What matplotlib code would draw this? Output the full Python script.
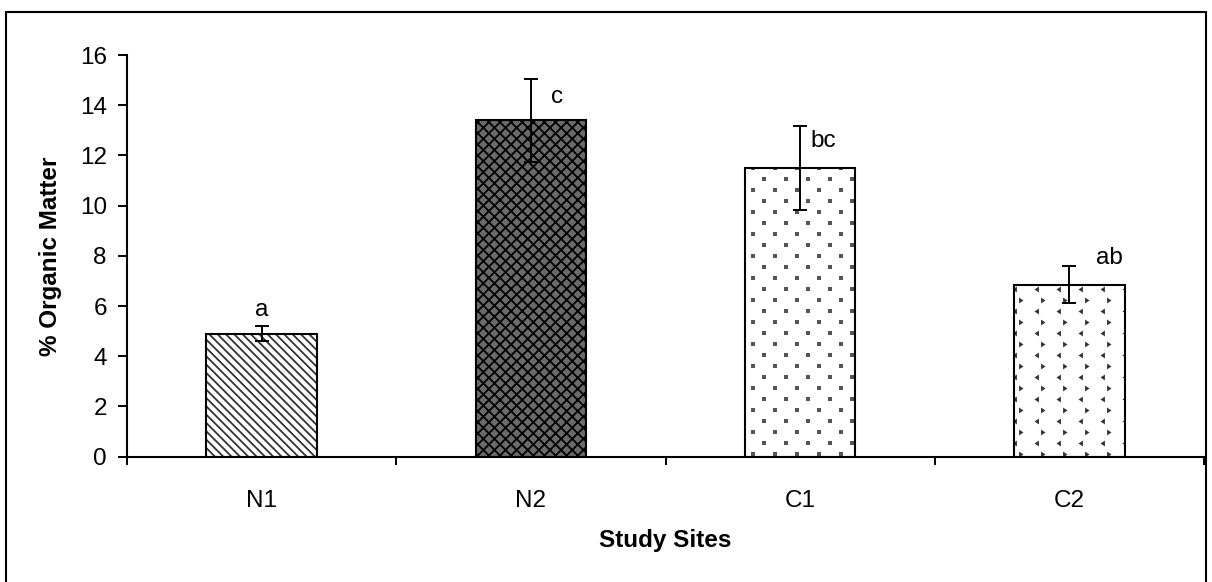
import numpy as np
import matplotlib
matplotlib.use('Agg')
import matplotlib.pyplot as plt
from matplotlib.patches import Rectangle

'''
% organic matter per study site, bar chart with error bars and letter groups
'''

sites = ['N1', 'N2', 'C1', 'C2']
organic_matter = [4.9, 13.4, 11.5, 6.85]
std_err = [0.3, 1.65, 1.67, 0.74]
groups = ['a', 'c', 'bc', 'ab']

# label offsets (points) from the top of each error bar
label_offsets = [(0, 11.5), (19, -13), (17, -11), (29, 6)]

plt.rcParams['font.family'] = ['Liberation Sans', 'DejaVu Sans']
plt.rcParams['hatch.linewidth'] = 1.3

fig = plt.figure(figsize=(12.12, 5.82), dpi=100)
ax = fig.add_axes([127 / 1212, 1 - 456.7 / 582, (1204 - 127) / 1212, (456.7 - 55) / 582])

x = np.arange(len(sites))
width = 0.41

# fill patterns first (hatch colour comes from edgecolor), outlines after
fills = [
    dict(facecolor='white', edgecolor='#333333', hatch='\\\\\\\\'),
    dict(facecolor='#6a6a6a', edgecolor='black', hatch='xxx'),
    dict(facecolor='white', edgecolor='white', hatch=None),
    dict(facecolor='white', edgecolor='white', hatch=None),
]
bars = []
for i in range(len(sites)):
    b = ax.bar(x[i], organic_matter[i], width, linewidth=0, zorder=2, **fills[i])
    bars.append(b[0])

px_x = 269.25  # px per category
px_y = 25.1    # px per unit


def marker_fill(bar, top, markers, size, color):
    # staggered grid of small marks, clipped to the bar
    xs = np.arange(bar.get_x() - 0.05, bar.get_x() + width + 0.05, 22 / px_x)
    ys = np.arange(0.1, top + 0.3, 11 / px_y)
    for j, yy in enumerate(ys):
        shift = 0 if j % 2 == 0 else 11 / px_x
        pts = ax.scatter(xs + shift, np.full(len(xs), yy), marker=markers[j % 2], s=size,
                         color=color, linewidths=0, zorder=3)
        pts.set_clip_path(bar)


marker_fill(bars[2], organic_matter[2], ['s', 's'], 5, '#555555')
marker_fill(bars[3], organic_matter[3], [5, 4], 18, '#333333')

ax.bar(x, organic_matter, width, facecolor='none', edgecolor='black', linewidth=1.5, zorder=4)
ax.errorbar(x, organic_matter, yerr=std_err, fmt='none', ecolor='black', elinewidth=1.4,
            capsize=5, capthick=1.4, zorder=5)

for i in range(len(sites)):
    ax.annotate(groups[i], (x[i], organic_matter[i] + std_err[i]), xytext=label_offsets[i],
                textcoords='offset points', ha='center', va='center', fontsize=17.5)

ax.set_xlim(-0.5, len(sites) - 0.5)
ax.set_ylim(0, 16)
ax.set_yticks(np.arange(0, 17, 2))
ax.set_xticks(x)
ax.set_xticklabels(sites)
ax.set_xticks(np.arange(-0.5, len(sites), 1), minor=True)
ax.tick_params(axis='x', which='major', length=0, pad=24, labelsize=17.5)
ax.tick_params(axis='x', which='minor', length=6, width=1.4, direction='out')
ax.tick_params(axis='y', length=6.5, width=1.4, pad=8, labelsize=17.5)

for s in ['top', 'right']:
    ax.spines[s].set_visible(False)
ax.spines['left'].set_linewidth(1.5)
ax.spines['bottom'].set_linewidth(1.5)

ax.set_xlabel('Study Sites', fontsize=17.5, fontweight='bold', labelpad=12)
ax.set_ylabel('% Organic Matter', fontsize=17.5, fontweight='bold', labelpad=13)

# outer chart frame
fig.patches.append(Rectangle((6 / 1212, -0.02), 1200 / 1212, 1.02 - 12 / 582,
                             transform=fig.transFigure, fill=False, edgecolor='black',
                             linewidth=1.5))

fig.savefig('out.png', dpi=100)
